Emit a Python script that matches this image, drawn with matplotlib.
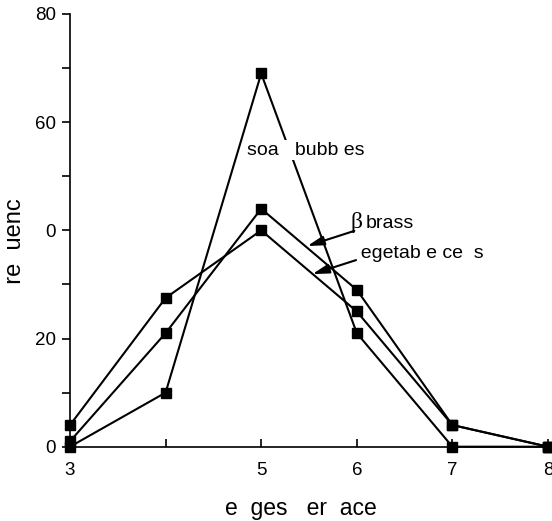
import matplotlib
matplotlib.use("Agg")
import matplotlib.pyplot as plt

plt.rcParams["font.family"] = ["Liberation Sans", "DejaVu Sans"]

# edges per face
edges = [3, 4, 5, 6, 7, 8]

# frequency (%)
soap_bubbles = [0, 10, 69, 21, 0, 0]
beta_brass = [1, 21, 44, 29, 4, 0]
vegetable_cells = [4, 27.5, 40, 25, 4, 0]

x_ticks = [3, 4, 5, 6, 7, 8]
x_tick_labels = ["3", "", "5", "6", "7", "8"]
y_ticks = [0, 10, 20, 30, 40, 50, 60, 70, 80]
y_tick_labels = ["0", "", "20", "", "0", "", "60", "", "80"]

W, H = 552, 521
fig = plt.figure(figsize=(W / 100, H / 100), dpi=100)
ax = fig.add_axes([70 / W, 1 - 446.7 / H, 478 / W, 432.7 / H])

for series in (soap_bubbles, beta_brass, vegetable_cells):
    ax.plot(edges, series, color="black", lw=1.5, marker="s", ms=7.8,
            clip_on=False, zorder=3)

ax.set_xlim(3, 8)
ax.set_ylim(0, 80)

ax.spines["top"].set_visible(False)
ax.spines["right"].set_visible(False)
ax.spines["left"].set_linewidth(1.2)
ax.spines["bottom"].set_linewidth(1.2)

ax.set_xticks(x_ticks)
ax.set_xticklabels(x_tick_labels)
ax.set_yticks(y_ticks)
ax.set_yticklabels(y_tick_labels)
ax.tick_params(axis="x", direction="in", length=6, width=1.2, pad=11, labelsize=13.5)
ax.tick_params(axis="y", direction="out", length=6, width=1.2, pad=4, labelsize=13.5)

ax.set_xlabel("e  ges   er  ace", fontsize=16.5, va="center")
ax.xaxis.set_label_coords(0.483, -0.142)
ax.set_ylabel("  re  uenc  ", fontsize=17, va="center")
ax.yaxis.set_label_coords(-0.115, 0.475)

# curve labels
ax.text(4.85, 54.8, "soa   bubb es", fontsize=14, ha="left", va="center",
        bbox=dict(facecolor="white", edgecolor="none", pad=1), zorder=4)
ax.text(5.93, 41.5, "\u03b2", fontsize=17, ha="left", va="center",
        family=["Liberation Serif", "DejaVu Serif"])
ax.text(6.09, 41.3, "brass", fontsize=14, ha="left", va="center")
ax.text(5.93, 35.7, "  egetab e ce  s", fontsize=14, ha="left", va="center")

arrow = dict(arrowstyle="-|>,head_length=1.0,head_width=0.28", color="black",
             lw=1.5, shrinkA=0, shrinkB=0)
ax.annotate("", xy=(5.482, 37.1), xytext=(5.974, 39.9), arrowprops=arrow)
ax.annotate("", xy=(5.535, 31.9), xytext=(5.992, 34.5), arrowprops=arrow)

fig.savefig("out.png", dpi=100)
